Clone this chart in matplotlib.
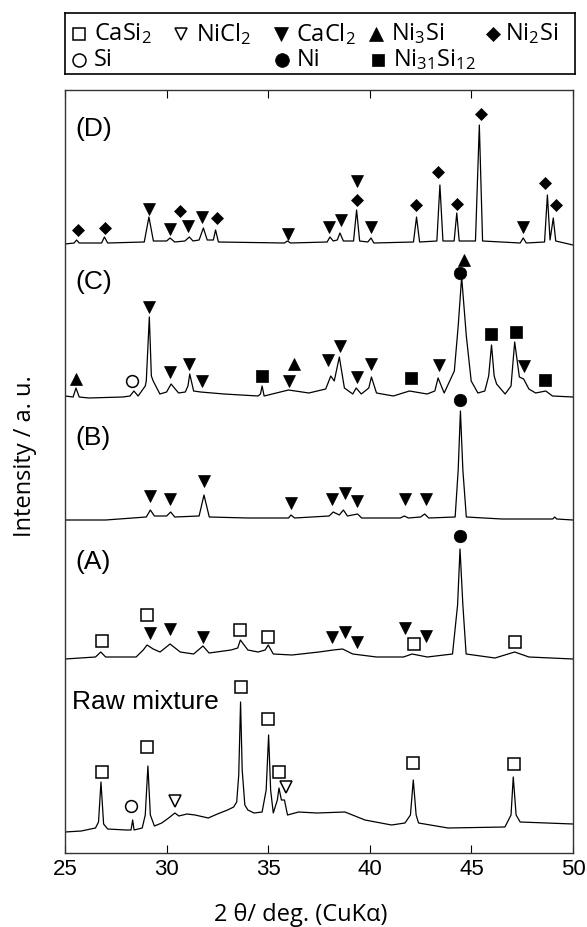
import matplotlib
matplotlib.use("Agg")
import matplotlib.pyplot as plt

plt.rcParams["mathtext.fontset"] = "custom"
plt.rcParams["mathtext.rm"] = "Open Sans"
plt.rcParams["mathtext.it"] = "Open Sans:italic"

# --- XRD traces: 2theta (deg) and intensity above each trace's own baseline (a.u.) ---
raw_tt = [25.0, 25.8, 26.5, 26.65, 26.77, 26.9, 27.1, 28.0, 28.25, 28.33, 28.4, 28.8, 28.95,
          29.08, 29.2, 29.4, 29.76, 30.1, 30.41, 30.6, 31.0, 31.4, 32.05, 32.5, 33.0, 33.3,
          33.45, 33.55, 33.64, 33.72, 33.85, 34.0, 34.3, 34.7, 34.9, 35.02, 35.12, 35.25,
          35.45, 35.53, 35.65, 35.8, 35.95, 36.5, 37.4, 38.78, 39.76, 41.07, 41.73, 42.0,
          42.14, 42.28, 42.4, 43.85, 46.65, 46.95, 47.06, 47.2, 47.4, 50.0]
raw_int = [-2, -1, 2, 8, 48, 6, 1, 0, 0, 10, 0, 2, 15,
           64, 15, 4, 7, 12, 17, 14, 16, 15, 12, 16, 20, 23,
           28, 55, 128, 60, 25, 20, 17, 18, 40, 95, 40, 17,
           30, 42, 30, 30, 15, 18, 17, 18, 10, 5, 7, 15,
           50, 15, 7, 2, 3, 15, 53, 15, 8, 6]

a_tt = [25.0, 26.5, 26.76, 27.0, 28.5, 28.85, 29.04, 29.34, 29.68, 30.17, 30.67, 31.33, 31.79,
        32.09, 33.17, 33.5, 33.63, 34.0, 34.5, 34.85, 35.0, 35.25, 36.17, 37.5, 38.2, 38.66,
        39.16, 40.33, 41.66, 42.08, 42.83, 44.07, 44.32, 44.44, 44.58, 44.74, 46.16, 47.13,
        47.83, 50.0]
a_int = [-2, 0, 5, 0, 0, 7, 12, 8, 5, 13, 5, 3, 11,
         4, 7, 9, 17, 7, 5, 7, 12, 3, 2, 5, 7, 8,
         3, 0, 0, 3, 0, 3, 52, 108, 52, 3, -1, 5,
         0, -2]

b_tt = [25.0, 27.0, 29.0, 29.2, 29.4, 30.0, 30.2, 30.4, 31.6, 31.84, 32.1, 34.0, 36.0, 36.12,
        36.3, 38.0, 38.2, 38.5, 38.7, 38.9, 39.4, 39.6, 41.5, 41.7, 41.9, 42.5, 42.7, 42.9,
        44.2, 44.35, 44.46, 44.58, 44.75, 46.5, 49.0, 49.1, 49.2, 50.0]
b_int = [0, 0, 3, 10, 4, 4, 8, 3, 4, 25, 3, 2, 2, 5,
         2, 4, 8, 5, 10, 4, 6, 2, 2, 4, 2, 3, 6, 2,
         3, 50, 109, 50, 3, 1, 1, 3, 1, 0]

c_tt = [25.0, 25.4, 25.54, 25.7, 26.17, 27.84, 28.2, 28.39, 28.6, 28.95, 29.0, 29.15, 29.25,
        29.34, 29.67, 30.0, 30.22, 30.59, 30.92, 31.05, 31.14, 31.33, 31.67, 32.83, 34.5,
        34.62, 34.7, 34.8, 36.0, 37.0, 37.83, 38.08, 38.25, 38.5, 38.75, 39.16, 39.33, 39.58,
        39.95, 40.08, 40.33, 41.16, 41.95, 42.82, 43.2, 43.36, 43.66, 44.16, 44.35, 44.52,
        44.75, 44.99, 45.32, 45.66, 45.85, 45.99, 46.12, 46.24, 46.66, 46.95, 47.13, 47.36,
        47.57, 47.83, 48.16, 48.66, 48.99, 50.0]
c_int = [0, -1, 8, -1, -2, -1, 0, 5, 0, 10, 15, 79, 20,
         15, 2, 4, 12, 3, 4, 10, 22, 5, 4, 2, 0,
         2, 10, 0, 6, 3, 7, 20, 15, 39, 8, 2, 8, 2,
         8, 19, 3, 0, 5, 2, 5, 18, 3, 25, 70, 119,
         60, 15, 3, 5, 20, 51, 20, 12, 2, 10, 54, 19,
         17, 7, 3, 5, 0, -1]

d_tt = [25.0, 25.45, 25.57, 25.7, 26.8, 26.94, 27.1, 28.9, 29.13, 29.35, 30.0, 30.17, 30.4,
        30.9, 31.12, 31.3, 31.6, 31.81, 32.0, 32.3, 32.41, 32.55, 35.8, 35.94, 36.1, 37.9,
        38.04, 38.2, 38.4, 38.53, 38.7, 39.2, 39.35, 39.5, 39.9, 40.06, 40.2, 42.15, 42.3,
        42.45, 43.3, 43.45, 43.6, 44.15, 44.28, 44.4, 45.2, 45.39, 45.55, 47.4, 47.55, 47.7,
        48.6, 48.74, 48.87, 49.03, 49.15, 50.0]
d_int = [-1, 0, 3, 0, 0, 6, 0, 1, 26, 2, 2, 5, 1,
         2, 6, 2, 3, 15, 3, 3, 13, 1, 0, 2, 0, 1,
         6, 2, 3, 10, 2, 2, 33, 2, 1, 5, 0, 1, 26,
         1, 2, 58, 2, 2, 30, 2, 2, 118, 2, 0, 5, 0,
         1, 48, 3, 25, 2, -2]

trace_names = ["Raw mixture", "(A)", "(B)", "(C)", "(D)"]
trace_tt = [raw_tt, a_tt, b_tt, c_tt, d_tt]
trace_int = [raw_int, a_int, b_int, c_int, d_int]
offsets = [23, 196, 333, 457, 610]

# --- phase markers: (2theta, height above trace baseline) ---
raw_marks = {
    "CaSi2": ([26.81, 29.05, 33.65, 34.98, 35.53, 42.14, 47.11], [58, 83, 143, 111, 58, 67, 66]),
    "NiCl2": ([30.41, 35.88], [29, 43]),
    "Si": ([28.25], [24]),
}
a_marks = {
    "CaSi2": ([26.8, 29.04, 33.63, 34.97, 42.16, 47.13], [16, 42, 27, 20, 13, 15]),
    "CaCl2": ([29.2, 30.17, 31.8, 38.16, 38.78, 39.38, 41.74, 42.75], [24, 28, 20, 20, 25, 15, 29, 21]),
    "Ni": ([44.46], [121]),
}
b_marks = {
    "CaCl2": ([29.2, 30.17, 31.84, 36.12, 38.16, 38.78, 39.38, 41.74, 42.75],
              [24, 21, 39, 17, 21, 27, 19, 21, 21]),
    "Ni": ([44.46], [120]),
}
c_marks = {
    "Ni3Si": ([25.54, 36.25, 44.64], [17, 32, 136]),
    "Si": ([28.31], [15]),
    "CaCl2": ([29.15, 30.17, 31.12, 31.75, 36.0, 37.96, 38.53, 39.38, 40.04, 43.41, 47.57],
              [89, 24, 32, 15, 15, 36, 50, 19, 32, 31, 30]),
    "Ni31Si12": ([34.71, 42.04, 45.94, 47.21, 48.62], [20, 18, 62, 64, 16]),
    "Ni": ([44.44], [123]),
}
d_marks = {
    "Ni2Si": ([25.62, 26.97, 30.66, 32.46, 39.35, 42.27, 43.37, 44.28, 45.46, 48.62, 49.15],
              [13, 15, 32, 25, 43, 38, 71, 39, 129, 60, 38]),
    "CaCl2": ([29.15, 30.17, 31.07, 31.72, 35.99, 37.99, 38.58, 39.38, 40.06, 47.55],
              [34, 14, 17, 26, 9, 16, 23, 62, 16, 16]),
}
trace_marks = [raw_marks, a_marks, b_marks, c_marks, d_marks]

phase_labels = {
    "CaSi2": "CaSi$_2$", "NiCl2": "NiCl$_2$", "CaCl2": "CaCl$_2$", "Ni3Si": "Ni$_3$Si",
    "Ni2Si": "Ni$_2$Si", "Si": "Si", "Ni": "Ni", "Ni31Si12": "Ni$_{31}$Si$_{12}$",
}
phase_style = {
    "CaSi2": dict(marker="s", ms=8.0, mfc="white", mew=1.1),
    "NiCl2": dict(marker="v", ms=8.5, mfc="white", mew=1.1),
    "CaCl2": dict(marker="v", ms=9.0, mfc="black", mew=0.5),
    "Ni3Si": dict(marker="^", ms=9.0, mfc="black", mew=0.5),
    "Ni2Si": dict(marker="D", ms=6.6, mfc="black", mew=0.5),
    "Si": dict(marker="o", ms=8.5, mfc="white", mew=1.1),
    "Ni": dict(marker="o", ms=9.0, mfc="black", mew=0.5),
    "Ni31Si12": dict(marker="s", ms=8.5, mfc="black", mew=0.5),
}

W, H = 587, 927
fig = plt.figure(figsize=(W / 100, H / 100), dpi=100)
ax = fig.add_axes([65 / W, 1 - 853 / H, 508 / W, 763 / H])

for name, tt, inten, off, marks in zip(trace_names, trace_tt, trace_int, offsets, trace_marks):
    ax.plot(tt, [v + off for v in inten], color="black", lw=0.9)
    for phase, (pos, hts) in marks.items():
        ax.plot(pos, [h + off for h in hts], ls="none", mec="black", **phase_style[phase])

label_y = {"Raw mixture": 151, "(A)": 291, "(B)": 415, "(C)": 571, "(D)": 724}
for name in trace_names:
    x0 = 0.014 if name == "Raw mixture" else 0.02
    ax.text(x0, label_y[name], name, transform=ax.get_yaxis_transform(),
            ha="left", va="center", fontsize=19, family="Liberation Sans")

ax.set_xlim(25, 50)
ax.set_ylim(0, 763)
ax.set_xticks([25, 30, 35, 40, 45, 50])
ax.set_yticks([])
ax.tick_params(axis="x", direction="in", top=True, length=5.5, width=0.8, pad=4,
               labelsize=16)
for lbl in ax.get_xticklabels():
    lbl.set_family("Liberation Sans")
for sp in ax.spines.values():
    sp.set_linewidth(1.0)
    sp.set_color("#333333")

ax.set_xlabel("2 θ/ deg. (CuKα)", fontsize=17, family="Open Sans")
ax.xaxis.set_label_coords((301 - 65) / 508, (853 - 903) / 763)
ax.xaxis.label.set_va("top")
fig.text(25 / W, 1 - 456 / H, "Intensity / a. u.", rotation=90, ha="center", va="center",
         fontsize=17, family="Open Sans")

# --- legend box ---
lax = fig.add_axes([65 / W, 1 - 74 / H, 510 / W, 61 / H])
lax.set_xlim(65, 575)
lax.set_ylim(74, 13)
lax.set_xticks([])
lax.set_yticks([])
for sp in lax.spines.values():
    sp.set_linewidth(1.2)
legend_layout = [
    ("CaSi2", 79, 34), ("NiCl2", 181, 34), ("CaCl2", 281, 34), ("Ni3Si", 376, 34), ("Ni2Si", 493, 34),
    ("Si", 79, 60), ("Ni", 282, 60), ("Ni31Si12", 378, 60),
]
for phase, sx, sy in legend_layout:
    st = dict(phase_style[phase])
    st["ms"] = st["ms"] * 1.1
    lax.plot([sx], [sy], ls="none", mec="black", **st)
    lax.text(sx + 12 if phase == "Ni2Si" else sx + 15, sy, phase_labels[phase], ha="left",
             va="center", fontsize=17, family="Open Sans")

fig.savefig("out.png", dpi=100)
